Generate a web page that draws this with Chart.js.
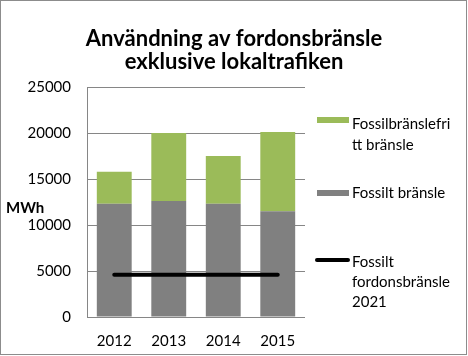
<!DOCTYPE html>
<html><head><meta charset="utf-8">
<script src="https://cdn.jsdelivr.net/npm/chart.js@4"></script>
<style>html,body{margin:0;padding:0;background:#fff}#wrap{width:468px;height:356px;position:relative}</style>
</head><body><div id="wrap"><canvas id="c" width="468" height="356"></canvas></div>
<script>
const categories = ['2012', '2013', '2014', '2015'];
const fossiltBransle = [12300, 12600, 12300, 11500];
const fossilfrittBransle = [3500, 7400, 5200, 8600];
const fossiltMal2021 = [4600, 4600, 4600, 4600];
const yTickValues = [0, 5000, 10000, 15000, 20000, 25000];
const titleLines = ['Användning av fordonsbränsle', 'exklusive lokaltrafiken'];
const yAxisTitle = 'MWh';
const legendGreen = ['Fossilbränslefri', 'tt bränsle'];
const legendGray = ['Fossilt bränsle'];
const legendLine = ['Fossilt', 'fordonsbränsle', '2021'];

const FONT = 'Lato, "Open Sans", sans-serif';
const GREEN = '#9BBB59', GRAY = '#808080', GRID = '#868686';

const extras = {
  id: 'extras',
  afterDraw(chart) {
    const ctx = chart.ctx;
    ctx.save();
    ctx.fillStyle = '#000';
    ctx.textAlign = 'center';
    ctx.textBaseline = 'alphabetic';
    ctx.font = 'bold 22px ' + FONT;
    ctx.fillText(titleLines[0], 234, 46);
    ctx.fillText(titleLines[1], 234, 69);
    ctx.textAlign = 'left';
    ctx.font = 'bold 15px ' + FONT;
    ctx.textBaseline = 'middle';
    ctx.fillText(yAxisTitle, 6, 208);
    // legend
    ctx.font = '15px ' + FONT;
    ctx.textBaseline = 'alphabetic';
    ctx.fillStyle = GREEN;
    ctx.fillRect(317, 117, 32, 6);
    ctx.fillStyle = '#000';
    legendGreen.forEach((t, i) => ctx.fillText(t, 352, 129 + i * 21));
    ctx.fillStyle = GRAY;
    ctx.fillRect(317, 190, 32, 6);
    ctx.fillStyle = '#000';
    legendGray.forEach((t, i) => ctx.fillText(t, 352, 198 + i * 21));
    ctx.strokeStyle = '#000';
    ctx.lineWidth = 4;
    ctx.lineCap = 'round';
    ctx.beginPath(); ctx.moveTo(317, 260); ctx.lineTo(348, 260); ctx.stroke();
    legendLine.forEach((t, i) => ctx.fillText(t, 352, 267 + i * 20));
    // frame
    ctx.lineWidth = 1;
    ctx.lineCap = 'butt';
    ctx.strokeStyle = '#8c8c8c';
    ctx.strokeRect(0.5, 0.5, 466, 354);
    ctx.restore();
  }
};

new Chart(document.getElementById('c'), {
  data: {
    labels: categories,
    datasets: [
      { type: 'bar', label: 'Fossilt bränsle', data: fossiltBransle, backgroundColor: GRAY, stack: 'bars', order: 1,
        categoryPercentage: 1, barPercentage: 0.64 },
      { type: 'bar', label: 'Fossilbränslefritt bränsle', data: fossilfrittBransle, backgroundColor: GREEN, stack: 'bars', order: 1,
        categoryPercentage: 1, barPercentage: 0.64 },
      { type: 'line', label: 'Fossilt fordonsbränsle 2021', data: fossiltMal2021, borderColor: '#000', borderWidth: 4,
        pointRadius: 0, stack: 'line', order: 0, borderCapStyle: 'round' }
    ]
  },
  options: {
    responsive: false,
    animation: false,
    layout: { padding: { top: 87, right: 163, left: 0, bottom: 0 } },
    plugins: { legend: { display: false }, title: { display: false }, tooltip: { enabled: false } },
    scales: {
      x: {
        stacked: true,
        grid: { display: false, drawTicks: false },
        border: { display: false },
        ticks: { color: '#000', font: { family: FONT, size: 15 }, padding: 15 },
        afterFit(s) { s.height = 39; }
      },
      y: {
        stacked: true,
        min: 0, max: 25000,
        afterBuildTicks(s) { s.ticks = yTickValues.map(v => ({ value: v })); },
        grid: { color: GRID, lineWidth: 1, drawTicks: false },
        border: { display: true, color: GRID, width: 1 },
        ticks: { color: '#000', font: { family: FONT, size: 15 }, padding: 16, callback: v => String(v) },
        afterFit(s) { s.width = 87; }
      }
    }
  },
  plugins: [extras]
});
</script></body></html>
